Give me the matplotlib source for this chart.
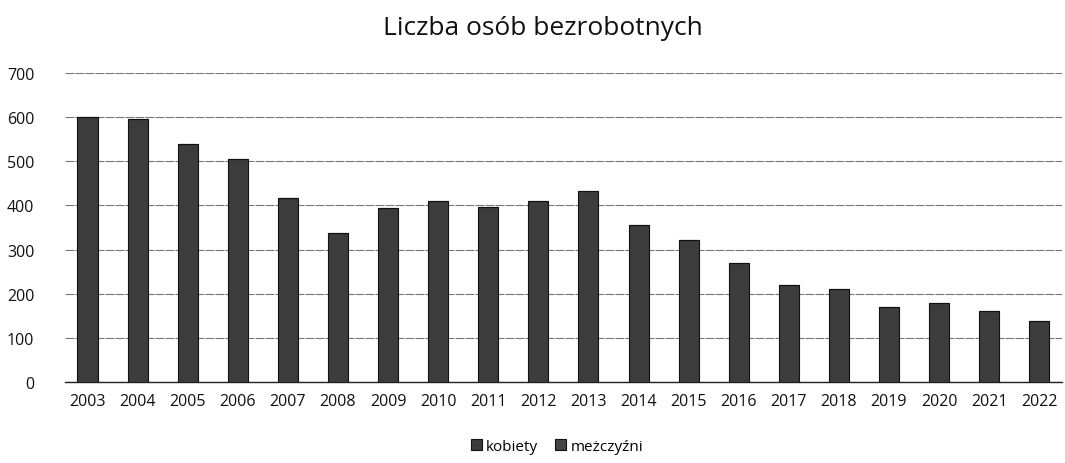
import matplotlib
matplotlib.use('Agg')
import matplotlib.pyplot as plt
import numpy as np

plt.rcParams['font.family'] = ['Open Sans', 'DejaVu Sans']

years = ['2003', '2004', '2005', '2006', '2007', '2008', '2009', '2010', '2011', '2012',
         '2013', '2014', '2015', '2016', '2017', '2018', '2019', '2020', '2021', '2022']
# only one bar colour is visible in the scan, so the split cannot be read;
# the whole height is kept in the first series
kobiety = [600, 596, 540, 505, 418, 338, 395, 410, 397, 410,
           433, 356, 322, 270, 219, 211, 170, 179, 161, 138]
mezczyzni = [0] * len(years)

fig = plt.figure(figsize=(10.65, 4.64), dpi=100)
ax = fig.add_axes([0.061, 0.175, 0.936, 0.665])

x = np.arange(len(years))
ax.bar(x, kobiety, width=0.4, color='#3c3c3c', edgecolor='#111111', linewidth=0.8,
       label='kobiety', zorder=3)
ax.bar(x, mezczyzni, width=0.4, bottom=kobiety, color='#444444', edgecolor='#111111',
       linewidth=0.8, label='meżczyźni', zorder=3)

ax.set_xlim(-0.45, len(years) - 0.55)
ax.set_ylim(0, 700)
ax.set_yticks(range(0, 701, 100))
ax.set_xticks(x)
ax.set_xticklabels(years)
ax.grid(axis='y', color='#777777', linewidth=0.8, linestyle=(0, (8, 1)), zorder=0)
for s in ['top', 'right', 'left']:
    ax.spines[s].set_visible(False)
ax.spines['bottom'].set_color('#222222')
ax.spines['bottom'].set_linewidth(1.0)
ax.tick_params(axis='both', length=0, labelsize=11.5, colors='#111111')
ax.tick_params(axis='y', pad=22)
ax.tick_params(axis='x', pad=8)

fig.suptitle('Liczba osób bezrobotnych', x=0.51, y=0.965, fontsize=19, color='#111111')

fig.legend(loc='lower center', bbox_to_anchor=(0.523, -0.01), ncol=2, frameon=False,
           fontsize=11, handlelength=0.7, handleheight=0.7, handletextpad=0.3,
           columnspacing=1.1)

fig.savefig('out.png', dpi=100)
